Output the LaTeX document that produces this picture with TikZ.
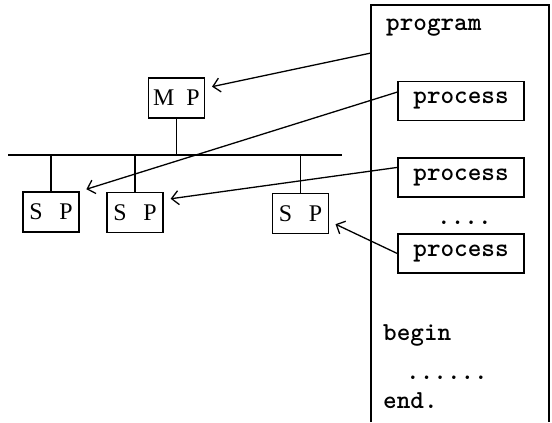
\documentclass[tikz,border=0pt]{standalone}
\usepackage{fontspec}
\newfontfamily\unitfont{Liberation Serif}
\usetikzlibrary{arrows.meta,positioning}

\begin{document}
\begin{tikzpicture}[x=1bp,y=-1bp,
    unit/.style={draw,line width=1.4bp,minimum width=56bp,minimum height=40bp,
      inner sep=0pt,font=\unitfont\fontsize{24}{26}\selectfont},
    procbox/.style={draw,line width=1.4bp,minimum width=126bp,minimum height=39bp,
      inner sep=0pt,font=\ttfamily\bfseries\fontsize{26}{28}\selectfont},
    code/.style={anchor=base west,inner sep=0pt,font=\ttfamily\bfseries\fontsize{26}{28}\selectfont},
    link/.style={line width=1.3bp,-{Straight Barb[length=7bp,width=14bp,line width=1.3bp]},
      shorten >=7bp}]
  \useasboundingbox (0,0) rectangle (552,422);
  % master and slave processors
  \node[unit] (mp) at (176.5,98) {M\hspace{.5em}P};
  \node[unit] (sp1) at (51,212) {S\hspace{.7em}P};
  \node[unit] (sp2) at (135,212.5) {S\hspace{.7em}P};
  \node[unit] (sp3) at (300.5,213.5) {S\hspace{.7em}P};
  % bus
  \coordinate (busl) at (8,155);
  \coordinate (busr) at (342,155);
  \draw[line width=1.3bp] (busl) -- (busr);
  \draw[line width=1.3bp] (mp.south) -- (mp.south |- busl);
  \foreach \s in {sp1,sp2,sp3}
    \draw[line width=1.3bp] (\s.north) -- (\s.north |- busl);
  % program listing (open at the bottom)
  \draw[line width=1.4bp] (371,422) -- (371,5) -- (549,5) -- (549,422);
  \node[code] (prog) at (386,30) {program};
  \node[procbox] (p1) at (461,101) {process};
  \node[procbox] (p2) at (461,177.5) {process};
  \node[code] (dots1) at (437,224) {....};
  \node[procbox] (p3) at (461,253.5) {process};
  \node[code] (beg) at (383,340) {begin};
  \node[code] (dots2) at (406,379) {......};
  \node[code] (fin) at (383,408) {end.};
  % mapping arrows
  \coordinate (progin) at (371,53);
  \draw[link] (progin) -- (mp.19);
  \draw[link] (p1.172) -- (sp1.north east);
  \draw[link] (p2.171) -- (sp2.24);
  \draw[link] (p3.west) -- (sp3.345);
\end{tikzpicture}
\end{document}
